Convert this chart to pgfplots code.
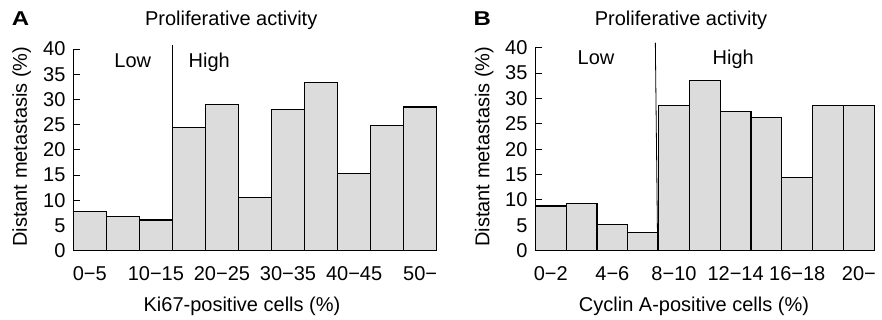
\documentclass[border=0pt]{standalone}
\usepackage{pgfplots}
\pgfplotsset{compat=1.18}
\usepackage{fontspec}
\setmainfont{Liberation Sans}
\definecolor{barfill}{RGB}{220,220,220}
\begin{document}
\fontsize{20bp}{24bp}\selectfont
\begin{tikzpicture}
\useasboundingbox (0,0) rectangle (882bp,320bp);
\pgfplotsset{
  myaxis/.style={
    scale only axis, axis lines=left, axis line style={-, line width=1.2bp},
    ymin=0, ymax=40, ytick={0,5,...,40}, tick align=inside, major tick length=6.5bp,
    ytick style={line width=0.9bp, black}, xtick style={draw=none},
    /pgf/number format/assume math mode=true,
    tick label style={font=\fontsize{20bp}{24bp}\selectfont},
    yticklabel style={xshift=-1bp},
    xticklabel style={anchor=base, yshift=-30bp},
    clip=false,
  }
}
\begin{axis}[myaxis, at={(73.3bp,69.3bp)}, anchor=south west, width=363.4bp, height=201.7bp, xmin=0, xmax=55,
  xtick={2.5,12.5,22.5,32.5,42.5,52.5}, xticklabels={0−5,10−15,20−25,30−35,40−45,50−}]
\addplot[ybar interval, draw=black, fill=barfill, line width=1.2bp] coordinates {(0,7.8)(5,6.8)(10,6.1)(15,24.4)(20,29.0)(25,10.6)(30,28.0)(35,33.4)(40,15.3)(45,24.8)(50,28.5)(55,28.5)};
\draw[line width=0.8bp] (axis cs:15,0) -- (axis cs:15,40.7);
\end{axis}
\begin{axis}[myaxis, at={(535.3bp,69.3bp)}, anchor=south west, width=339bp, height=203bp, xmin=0, xmax=22,
  xtick={1,5,9,13,17,21}, xticklabels={0−2,4−6,8−10,12−14,16−18,20−}]
\addplot[ybar interval, draw=black, fill=barfill, line width=1.2bp] coordinates {(0,8.8)(2,9.3)(4,5.1)(6,3.6)(8,28.6)(10,33.5)(12,27.4)(14,26.2)(16,14.4)(18,28.6)(20,28.6)(22,28.6)};
\draw[line width=0.8bp] (axis cs:7.94,0) -- (axis cs:7.79,41.0);
\end{axis}
\node[font=\bfseries, anchor=base, xscale=1.2] at (20.5bp,294bp) {A};
\node[anchor=base] at (231.2bp,294bp) {Proliferative activity};
\node[anchor=base] at (132.8bp,252.3bp) {Low};
\node[anchor=base] at (209.2bp,252.3bp) {High};
\node[rotate=90] at (21.7bp,173.3bp) {Distant metastasis (\%)};
\node[anchor=base] at (242bp,8.3bp) {Ki67-positive cells (\%)};
\node[font=\bfseries, anchor=base, xscale=1.2] at (482.3bp,294bp) {B};
\node[anchor=base] at (681bp,294bp) {Proliferative activity};
\node[anchor=base] at (596bp,255.7bp) {Low};
\node[anchor=base] at (733.2bp,255.7bp) {High};
\node[rotate=90] at (484.3bp,173.3bp) {Distant metastasis (\%)};
\node[anchor=base] at (694bp,8.3bp) {Cyclin A-positive cells (\%)};
\end{tikzpicture}
\end{document}
